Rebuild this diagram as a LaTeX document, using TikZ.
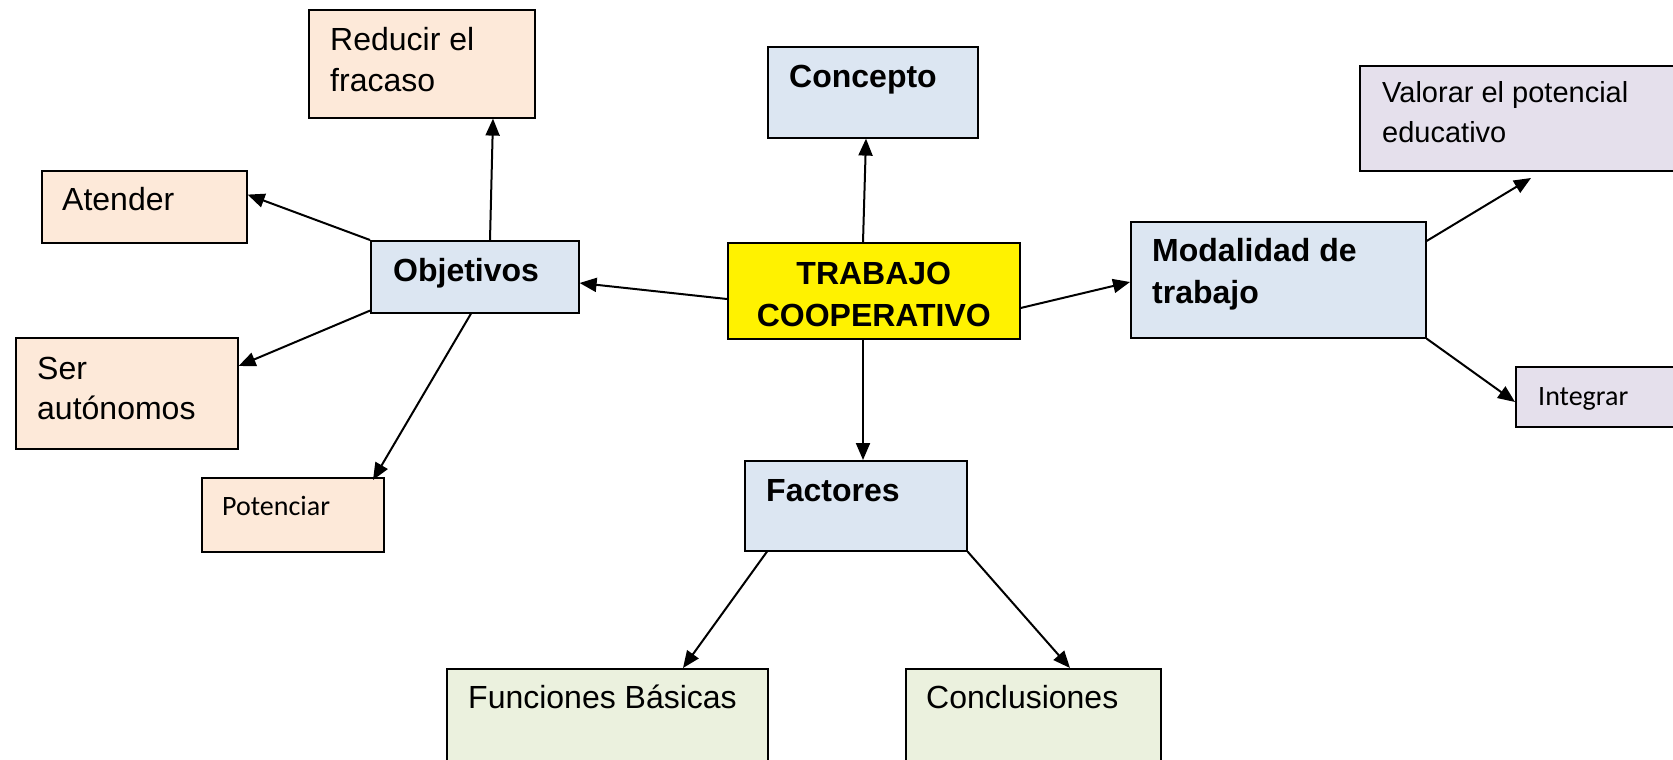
\documentclass[tikz,border=0pt]{standalone}
\usepackage{fontspec}
\setmainfont{Liberation Sans}
\newfontfamily\calib{Carlito}
\usetikzlibrary{arrows.meta}

\definecolor{peachfill}{HTML}{FDE9D9}
\definecolor{bluefill}{HTML}{DCE6F2}
\definecolor{lilacfill}{HTML}{E5E0EC}
\definecolor{greenfill}{HTML}{EBF1DE}

% text lines, baseline on the first line
\newcommand{\lines}[1]{\begin{tabular}[t]{@{}l@{}}#1\end{tabular}}
\newcommand{\clines}[1]{\begin{tabular}[t]{@{}c@{}}#1\end{tabular}}

\tikzset{
	box/.style={draw=black, line width=1.6pt, anchor=north west, inner sep=0pt},
	peach/.style={box, fill=peachfill},
	blue/.style={box, fill=bluefill},
	lilac/.style={box, fill=lilacfill},
	green/.style={box, fill=greenfill},
	txt/.style={anchor=base west, inner sep=0pt, font=\fontsize{32}{41}\selectfont},
	bold/.style={txt, font=\fontsize{32}{42}\selectfont\bfseries},
	small/.style={txt, font=\fontsize{28}{36}\selectfont\calib},
	link/.style={line width=2pt, -{Triangle[length=17pt,width=14pt]}}
}

\begin{document}
\begin{tikzpicture}[x=1pt, y=-1pt]
			\useasboundingbox (0,0) rectangle (1673,760);
			
			% boxes
			\node[peach, minimum width=226pt, minimum height=108pt] (red) at (308,9) {};
			\node[blue, minimum width=210pt, minimum height=91pt] (conc) at (767,46) {};
			\node[lilac, minimum width=330pt, minimum height=105pt] (val) at (1359,65) {};
			\node[peach, minimum width=205pt, minimum height=72pt] (aten) at (41,170) {};
			\node[blue, minimum width=208pt, minimum height=72pt] (obj) at (370,240) {};
			\node[box, fill=yellow, minimum width=292pt, minimum height=96pt] (trab) at (727,242) {};
			\node[blue, minimum width=295pt, minimum height=116pt] (mod) at (1130,221) {};
			\node[lilac, minimum width=175pt, minimum height=60pt] (integ) at (1515,366) {};
			\node[peach, minimum width=222pt, minimum height=111pt] (ser) at (15,337) {};
			\node[peach, minimum width=182pt, minimum height=74pt] (pot) at (201,477) {};
			\node[blue, minimum width=222pt, minimum height=90pt] (fac) at (744,460) {};
			\node[green, minimum width=321pt, minimum height=110pt] (fun) at (446,668) {};
			\node[green, minimum width=255pt, minimum height=110pt] (concl) at (905,668) {};
			
			% texts
			\node[txt] (redtxt) at ([xshift=22pt,yshift=-42pt]red.north west) {\lines{Reducir el\\fracaso}};
			\node[bold] (conctxt) at ([xshift=22pt,yshift=-41pt]conc.north west) {Concepto};
			\node[txt, font=\fontsize{29}{40}\selectfont] (valtxt) at ([xshift=23pt,yshift=-37pt]val.north west) {\lines{Valorar el potencial\\educativo}};
			\node[txt] (atentxt) at ([xshift=21pt,yshift=-40pt]aten.north west) {Atender};
			\node[bold] (objtxt) at ([xshift=23pt,yshift=-41pt]obj.north west) {Objetivos};
			\node[bold, anchor=base] (trabtxt) at ([yshift=-42pt]trab.north) {\clines{TRABAJO\\COOPERATIVO}};
			\node[bold] (modtxt) at ([xshift=22pt,yshift=-40pt]mod.north west) {\lines{Modalidad de\\trabajo}};
			\node[small] (integtxt) at ([xshift=23pt,yshift=-39pt]integ.north west) {Integrar};
			\node[txt, font=\fontsize{32}{40}\selectfont] (sertxt) at ([xshift=22pt,yshift=-42pt]ser.north west) {\lines{Ser\\autónomos}};
			\node[small] (pottxt) at ([xshift=21pt,yshift=-38pt]pot.north west) {Potenciar};
			\node[bold] (factxt) at ([xshift=22pt,yshift=-41pt]fac.north west) {Factores};
			\node[txt] (funtxt) at ([xshift=22pt,yshift=-40pt]fun.north west) {Funciones Básicas};
			\node[txt] (concltxt) at ([xshift=21pt,yshift=-40pt]concl.north west) {Conclusiones};
			
			\coordinate (valtip) at (1531,178);
			
			% connectors
			\draw[link] ([yshift=-57pt]trab.north west) -- ([yshift=-43pt]obj.north east);
			\draw[link] ([xshift=136pt]trab.north west) -- ([xshift=99pt]conc.south west);
			\draw[link] ([yshift=-66pt]trab.north east) -- ([yshift=-61pt]mod.north west);
			\draw[link] ([xshift=136pt]trab.south west) -- ([xshift=119pt]fac.north west);
			\draw[link] ([xshift=120pt]obj.north west) -- ([xshift=185pt]red.south west);
			\draw[link] (obj.north west) -- ([yshift=49pt]aten.south east);
			\draw[link] ([yshift=3pt]obj.south west) -- ([yshift=-29pt]ser.north east);
			\draw[link] ([xshift=101pt]obj.south west) -- ([xshift=172pt,yshift=-3pt]pot.north west);
			\draw[link] ([yshift=-20pt]mod.north east) -- (valtip);
			\draw[link] (mod.south east) -- ([yshift=-36pt]integ.north west);
			\draw[link] ([xshift=23pt]fac.south west) -- ([xshift=237pt]fun.north west);
			\draw[link] (fac.south east) -- ([xshift=165pt]concl.north west);
\end{tikzpicture}
\end{document}
